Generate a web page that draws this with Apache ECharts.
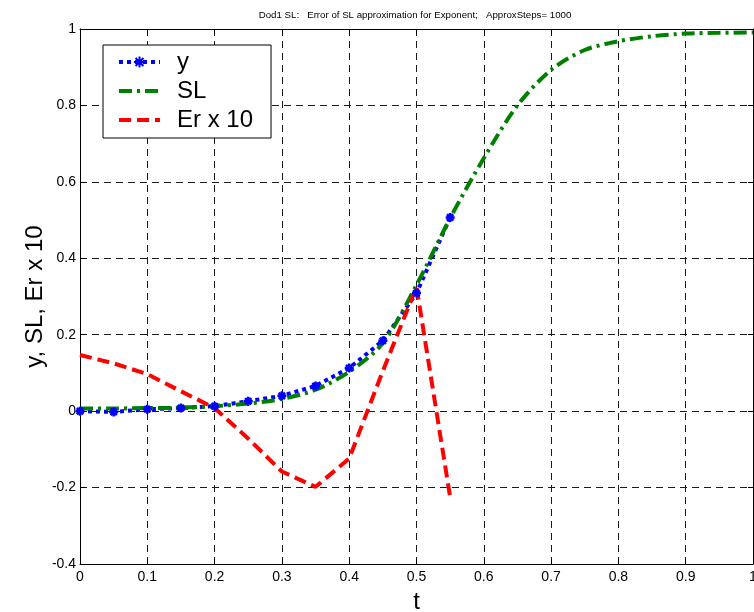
<!DOCTYPE html>
<html>
<head>
<meta charset="utf-8">
<script src="https://cdn.jsdelivr.net/npm/echarts@6/dist/echarts.min.js"></script>
<style>
  html, body { margin: 0; padding: 0; background: #fff; }
  #chart { width: 754px; height: 612px; }
</style>
</head>
<body>
<div id="chart"></div>
<script>
// Sample times and the three curves: exact solution y, SL approximation, error x 10
var tY = [0, 0.05, 0.1, 0.15, 0.2, 0.25, 0.3, 0.35, 0.4, 0.45, 0.5, 0.55];
var yValues = [0.0, -0.002, 0.005, 0.008, 0.013, 0.026, 0.04, 0.066, 0.113, 0.184, 0.309, 0.507];

var tSL = [0, 0.05, 0.1, 0.15, 0.2, 0.25, 0.3, 0.35, 0.4, 0.45, 0.5, 0.55,
           0.6, 0.65, 0.7, 0.75, 0.8, 0.85, 0.9, 0.95, 1.0];
var slValues = [0.007, 0.007, 0.008, 0.009, 0.013, 0.02, 0.032, 0.056, 0.103, 0.178, 0.33, 0.505,
                0.662, 0.8, 0.893, 0.945, 0.968, 0.981, 0.988, 0.99, 0.991];

var tEr = [0, 0.05, 0.1, 0.15, 0.2, 0.25, 0.3, 0.35, 0.4, 0.45, 0.5, 0.55];
var erValues = [0.147, 0.125, 0.097, 0.052, 0.008, -0.072, -0.158, -0.198, -0.124, 0.105, 0.325, -0.225];

var xTicks = [0, 0.1, 0.2, 0.3, 0.4, 0.5, 0.6, 0.7, 0.8, 0.9, 1];
var yTicks = [-0.4, -0.2, 0, 0.2, 0.4, 0.6, 0.8, 1];

var seriesNames = ['y', 'SL', 'Er x 10'];
var titleText = 'Dod1 SL:   Error of SL approximation for Exponent;   ApproxSteps= 1000';

function pairs(xs, ys) {
  return xs.map(function (x, i) { return [x, ys[i]]; });
}

var FONT = "'Liberation Sans', Arial, sans-serif";
var asterisk = 'path://M0,5L10,5M5,0L5,10M1.5,1.5L8.5,8.5M8.5,1.5L1.5,8.5';

var gridDash = { show: true, lineStyle: { color: '#1a1a1a', width: 1, type: [7, 5] } };
var frameLine = { show: true, onZero: false, lineStyle: { color: '#000', width: 1 } };
var inTick = { show: true, inside: true, length: 5, lineStyle: { color: '#000' } };

var chart = echarts.init(document.getElementById('chart'), null, { renderer: 'canvas' });
chart.setOption({
  animation: false,
  backgroundColor: '#ffffff',
  title: {
    text: titleText,
    left: 410,
    top: 5,
    textAlign: 'center',
    textStyle: { fontFamily: FONT, fontSize: 9.7, fontWeight: 'normal', color: '#000' }
  },
  grid: { left: 80, right: 1, top: 29, bottom: 48, containLabel: false, outerBoundsMode: 'none' },
  legend: {
    data: [
      { name: seriesNames[0] },
      { name: seriesNames[1], itemStyle: { opacity: 0 } },
      { name: seriesNames[2], itemStyle: { opacity: 0 } }
    ],
    orient: 'vertical',
    left: 103,
    top: 45,
    padding: [5, 18, 6, 14],
    itemGap: 5,
    itemWidth: 41,
    itemHeight: 14,
    lineStyle: { width: 4 },
    backgroundColor: '#ffffff',
    borderColor: '#000',
    borderWidth: 1,
    borderRadius: 0,
    textStyle: { fontFamily: FONT, fontSize: 24, color: '#000', padding: [0, 0, 0, 12] }
  },
  xAxis: [{
    type: 'value', min: 0, max: 1, interval: 0.1,
    name: 't', nameLocation: 'middle', nameGap: 26,
    nameTextStyle: { fontFamily: FONT, fontSize: 24, color: '#000' },
    axisLine: frameLine,
    axisTick: inTick,
    axisLabel: {
      fontFamily: FONT, fontSize: 14, color: '#000', margin: 6,
      formatter: function (v) { return xTicks.indexOf(+v.toFixed(1)) >= 0 ? String(+v.toFixed(1)) : ''; }
    },
    splitLine: gridDash
  }, {
    type: 'value', min: 0, max: 1, interval: 0.1, position: 'top',
    axisLine: frameLine,
    axisTick: inTick,
    axisLabel: { show: false },
    splitLine: { show: false }
  }],
  yAxis: [{
    type: 'value', min: -0.4, max: 1, interval: 0.2,
    name: 'y, SL, Er x 10', nameLocation: 'middle', nameGap: 33, nameMoveOverlap: false,
    nameTextStyle: { fontFamily: FONT, fontSize: 24, color: '#000' },
    axisLine: frameLine,
    axisTick: inTick,
    axisLabel: {
      fontFamily: FONT, fontSize: 14, color: '#000', margin: 4,
      formatter: function (v) { return String(+v.toFixed(1)); }
    },
    splitLine: gridDash
  }, {
    type: 'value', min: -0.4, max: 1, interval: 0.2, position: 'right',
    axisLine: frameLine,
    axisTick: inTick,
    axisLabel: { show: false },
    splitLine: { show: false }
  }],
  series: [{
    name: seriesNames[0],
    type: 'line',
    data: pairs(tY, yValues),
    symbol: asterisk,
    symbolSize: 9,
    showAllSymbol: true,
    itemStyle: { color: '#0000ff', borderColor: '#0000ff', borderWidth: 2.5 },
    lineStyle: { color: '#0000ff', width: 4, type: [4, 4] }
  }, {
    name: seriesNames[1],
    type: 'line',
    data: pairs(tSL, slValues),
    symbol: 'none',
    smooth: 0.3,
    itemStyle: { color: '#008000' },
    lineStyle: { color: '#008000', width: 4, type: [13, 5, 3, 5] }
  }, {
    name: seriesNames[2],
    type: 'line',
    data: pairs(tEr, erValues),
    symbol: 'none',
    itemStyle: { color: '#ff0000' },
    lineStyle: { color: '#ff0000', width: 4, type: [12, 6] }
  }]
});
</script>
</body>
</html>
